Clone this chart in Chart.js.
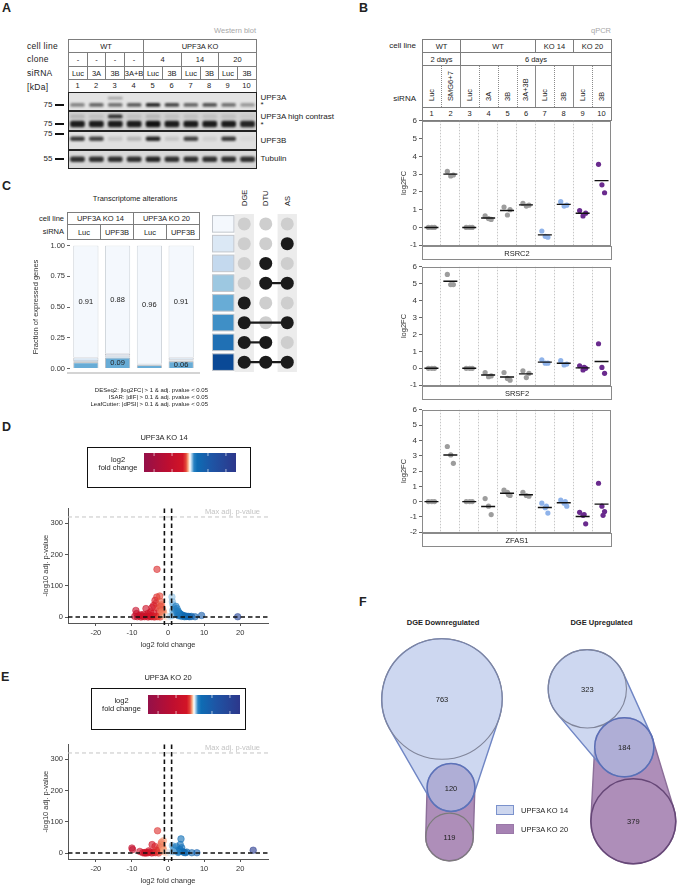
<!DOCTYPE html>
<html>
<head>
<meta charset="utf-8">
<script src="https://cdn.jsdelivr.net/npm/chart.js@4.4.1/dist/chart.umd.min.js"></script>
<style>
body { margin: 0; background: #fff; }
#page { position: relative; width: 678px; height: 886px; overflow: hidden; font-family: "Liberation Sans", Arial, sans-serif; color: #222; }
.t { position: absolute; white-space: nowrap; line-height: 1; }
.cell { position: absolute; box-sizing: border-box; border: 1px solid #7d7d7d; display: flex; align-items: center; justify-content: center; font-size: 7.5px; white-space: nowrap; }
.vline { position: absolute; width: 0; }
.vtext { position: absolute; writing-mode: vertical-rl; transform: rotate(180deg); font-size: 7.5px; line-height: 10px; white-space: nowrap; }
canvas { position: absolute; }
</style>
</head>
<body>
<div id="page"></div>
<script>
// ---------- A: western blot ----------
const blotLanes = ['1', '2', '3', '4', '5', '6', '7', '8', '9', '10'];
const blotCellLine = [['WT', 4], ['UPF3A KO', 6]];
const blotClone = [['-', 1], ['-', 1], ['-', 1], ['-', 1], ['4', 2], ['14', 2], ['20', 2]];
const blotSiRNA = ['Luc', '3A', '3B', '3A+B', 'Luc', '3B', 'Luc', '3B', 'Luc', '3B'];
// band intensity per lane (0 = no band, 1 = black)
const upf3aUpper = [0, 0, 0.3, 0, 0, 0, 0, 0, 0, 0];
const upf3aMain = [0.45, 0.6, 0.55, 0.65, 0.9, 0.75, 0.6, 0.7, 0.55, 0.35];
const upf3aHcUpper = [0.15, 0.1, 0.85, 0.1, 0.15, 0.1, 0.1, 0.1, 0.1, 0.05];
const upf3aHcMain = [0.95, 0.95, 0.95, 0.95, 1, 0.95, 0.95, 0.95, 0.95, 0.9];
const upf3bMain = [0.8, 0.75, 0.12, 0.2, 0.9, 0.12, 0.75, 0.08, 0.8, 0.04];
const tubulinMain = [0.85, 0.85, 0.85, 0.85, 0.9, 0.85, 0.85, 0.85, 0.85, 0.85];

// ---------- B: qPCR ----------
const qpcrCellLine = [['WT', 2], ['WT', 4], ['KO 14', 2], ['KO 20', 2]];
const qpcrDays = [['2 days', 2], ['6 days', 8]];
const qpcrSiRNA = ['Luc', 'SMG6+7', 'Luc', '3A', '3B', '3A+3B', 'Luc', '3B', 'Luc', '3B'];
const qpcrGroup = ['WT', 'WT', 'WT', 'WT', 'WT', 'WT', 'KO14', 'KO14', 'KO20', 'KO20'];
const rsrc2 = [[0, 0, 0], [3.15, 2.9, 2.95], [0, 0, 0], [0.65, 0.5, 0.45], [1.15, 0.7, 1.0], [1.35, 1.2, 1.25],
  [-0.2, -0.5, -0.55], [1.45, 1.2, 1.25], [0.95, 0.65, 0.8], [3.55, 2.4, 1.95]];
const srsf2 = [[0, 0, 0], [5.55, 4.95, 4.95], [0, 0, 0], [-0.25, -0.5, -0.45], [-0.25, -0.6, -0.7], [-0.15, -0.55, -0.3],
  [0.5, 0.3, 0.3], [0.45, 0.2, 0.25], [0.15, -0.1, 0.0, 0.05], [1.45, 0.05, -0.3]];
const zfas1 = [[0, 0, 0], [3.6, 3.05, 2.5], [0, 0, 0], [0.2, -0.3, -0.85], [0.75, 0.6, 0.4, 0.45], [0.6, 0.4, 0.35],
  [-0.1, -0.4, -0.75, -0.3], [0.1, -0.1, -0.3, 0.0], [-0.7, -0.9, -1.45, -0.85], [1.2, -0.3, -0.65, -0.9]];

// ---------- C: transcriptome alterations ----------
const txCellLine = [['UPF3A KO 14', 2], ['UPF3A KO 20', 2]];
const txSiRNA = ['Luc', 'UPF3B', 'Luc', 'UPF3B'];
const txCategories = ['none', 'AS', 'DTU', 'DTU+AS', 'DGE', 'DGE+AS', 'DGE+DTU', 'DGE+DTU+AS'];
const fracNone = [0.910, 0.879, 0.960, 0.910];
const fracAS = [0.020, 0.016, 0.004, 0.015];
const fracDTU = [0.010, 0.010, 0.003, 0.008];
const fracDTUAS = [0.005, 0.005, 0.002, 0.004];
const fracDGE = [0.050, 0.087, 0.027, 0.058];
const fracDGEAS = [0.002, 0.001, 0.002, 0.002];
const fracDGEDTU = [0.002, 0.001, 0.001, 0.002];
const fracDGEDTUAS = [0.001, 0.001, 0.001, 0.001];

// ---------- D / E: volcano plots ----------
const fcCutoff = 1;
const padjCutoff = 0.05;
const maxNegLog10P = 320;
const ko14Fc = [-9.2, -8.5, -8.0, -7.5, -7.0, -6.5, -6.0, -5.5, -5.0, -4.6, -4.2, -3.8, -3.4, -3.0, -2.6, -2.2,
  -8.9, -8.7, -7.5, -6.1, -5.6, -4.8, -4.4, -4.0, -3.6, -3.1, -3.05, -3.3, -2.8, -2.5, -3.9, -5.2, -6.8,
  -2.3, -2.0, -1.8, -1.6, -1.4, -1.2, -1.9, -1.5, -1.1, -2.1, -1.7,
  -0.6, -0.3, 0.3, 0.7,
  1.1, 1.2, 1.4, 1.6, 1.3, 1.8, 1.5, 1.9, 1.2,
  2.2, 2.5, 2.8, 3.0, 3.3, 3.6, 4.0, 4.4, 4.8, 5.2, 5.6, 6.0, 2.6, 3.2, 3.8, 2.4, 2.9, 4.6, 6.5, 7.5,
  9.3, 19.3];
const ko14P = [3, 2, 5, 1, 3, 2, 4, 1, 3, 2, 5, 1, 3, 2, 4, 1,
  22, 12, 8, 28, 12, 18, 31, 38, 54, 65, 153, 45, 30, 20, 14, 8, 9,
  68, 50, 40, 30, 22, 15, 25, 10, 6, 35, 18,
  3, 1, 2, 4,
  65, 50, 40, 30, 22, 15, 10, 25, 6,
  35, 28, 20, 15, 12, 9, 7, 5, 4, 3, 3, 2, 10, 6, 3, 18, 5, 2, 3, 2,
  6, 2];
const ko20Fc = [-10.0, -9.8, -7.8, -7.0, -6.5, -6.3, -6.0, -5.5, -5.0, -4.5, -4.0, -3.5, -3.0, -2.6, -4.4, -3.6, -2.5, -2.9, -5.3, -3.2, -2.2,
  -1.9, -1.8, -1.6, -1.4, -1.3, -1.2, -1.1,
  -0.5, 0.4,
  1.2, 1.5, 1.8, 2.0, 2.3, 2.6, 3.0, 3.3, 3.6, 3.8, 4.0, 4.4, 4.8, 5.2, 3.4, 2.8, 1.4, 6.6, 8.0,
  23.6];
const ko20P = [17, 12, 6, 2, 1, 3, 1, 2, 4, 1, 3, 2, 5, 1, 28, 22, 16, 72, 8, 10, 8,
  30, 35, 25, 18, 40, 10, 5,
  2, 3,
  25, 20, 15, 10, 22, 8, 5, 12, 46, 18, 6, 3, 2, 4, 28, 3, 5, 2, 2,
  10];

// ---------- F: DGE overlap ----------
const downCounts = [763, 120, 119]; // KO14 only, shared, KO20 only
const upCounts = [323, 184, 379];

// ---------- styles / layout ----------
Chart.defaults.font.family = '"Liberation Sans", Arial, sans-serif';
Chart.defaults.font.size = 7.5;
Chart.defaults.color = '#333';
Chart.defaults.animation = false;
Chart.defaults.responsive = false;
Chart.defaults.events = [];
Chart.defaults.layout.autoPadding = false;
Chart.defaults.plugins.legend.display = false;
Chart.defaults.plugins.tooltip.enabled = false;

const page = document.getElementById('page');

function label(str, x, y, opts = {}) {
  const d = document.createElement('div');
  d.className = 't';
  d.textContent = str;
  const align = opts.align || 'center';
  d.style.left = x + 'px';
  d.style.top = y + 'px';
  d.style.fontSize = (opts.size || 7.5) + 'px';
  if (opts.color) d.style.color = opts.color;
  if (opts.bold) d.style.fontWeight = 'bold';
  if (opts.spacing) d.style.letterSpacing = opts.spacing + 'px';
  const tx = align === 'center' ? '-50%' : align === 'right' ? '-100%' : '0';
  d.style.transform = `translate(${tx}, -50%)`;
  page.appendChild(d);
  return d;
}

function cell(x0, x1, y0, y1, txt, css = {}) {
  const d = document.createElement('div');
  d.className = 'cell';
  d.style.left = x0 + 'px';
  d.style.top = y0 + 'px';
  d.style.width = (x1 - x0 + 1) + 'px';
  d.style.height = (y1 - y0 + 1) + 'px';
  if (txt) d.textContent = txt;
  Object.assign(d.style, css);
  page.appendChild(d);
  return d;
}

function vline(x, y0, y1, style) {
  const d = document.createElement('div');
  d.className = 'vline';
  d.style.left = x + 'px';
  d.style.top = y0 + 'px';
  d.style.height = (y1 - y0) + 'px';
  d.style.borderLeft = '1px ' + style + ' #8a8a8a';
  page.appendChild(d);
}

function addCanvas(left, top, w, h) {
  const c = document.createElement('canvas');
  c.width = w;
  c.height = h;
  c.style.left = left + 'px';
  c.style.top = top + 'px';
  c.style.width = w + 'px';
  c.style.height = h + 'px';
  page.appendChild(c);
  return c;
}

// spanning header row: list of [text, span]
function spanRow(items, colX, y0, y1) {
  let i = 0;
  items.forEach(([txt, span]) => {
    cell(colX(i), colX(i + span), y0, y1, txt);
    i += span;
  });
}

// panel letters
[['A', 2, 8], ['B', 359, 8], ['C', 2, 186], ['D', 2, 427], ['E', 1, 677], ['F', 359, 602]]
  .forEach(([l, x, y]) => label(l, x, y, {align: 'left', size: 12.5, bold: true}));

// ================= A =================
const aX = i => Math.round(67.7 + i * 18.83);
label('Western blot', 256, 30.5, {align: 'right', color: '#a8a8a8'});
[['cell line', 45.7], ['clone', 59.3], ['siRNA', 72.7], ['[kDa]', 86.5]]
  .forEach(([t, y]) => label(t, 27, y, {align: 'left', size: 8.5, spacing: 0.3}));
spanRow(blotCellLine, aX, 39, 52);
spanRow(blotClone, aX, 52, 66);
spanRow(blotSiRNA.map(s => [s, 1]), aX, 66, 79);
cell(aX(0), aX(10), 79, 93);
blotLanes.forEach((n, i) => label(n, (aX(i) + aX(i + 1)) / 2, 86.3));

// marker labels and right side labels
[['75', 105], ['75', 123.7], ['75', 134], ['55', 158.7]].forEach(([t, y]) => {
  label(t, 52.5, y, {align: 'right', size: 8});
  const d = document.createElement('div');
  Object.assign(d.style, {position: 'absolute', left: '54.5px', top: (y - 1) + 'px', width: '9px', height: '2px', background: '#111'});
  page.appendChild(d);
});
[['UPF3A', 97.7], ['*', 105], ['UPF3A high contrast', 117.3], ['*', 125], ['UPF3B', 140.7], ['Tubulin', 159]]
  .forEach(([t, y]) => label(t, 260.5, y, {align: 'left', size: 8}));

const blotBands = [
  {vals: upf3aUpper, y: 0.32, h: 0.07},
  {vals: upf3aMain, y: 0.67, h: 0.1},
  {vals: upf3aHcUpper, y: 1.27, h: 0.1},
  {vals: upf3aHcMain, y: 1.66, h: 0.17},
  {vals: upf3bMain, y: 2.43, h: 0.12},
  {vals: tubulinMain, y: 3.49, h: 0.14}
];
const stripShade = ['#e4e4e4', '#d2d2d2', '#e0e0e0', '#d9d9d9'];

const blotStrips = {
  id: 'blotStrips',
  beforeDatasetsDraw(chart) {
    const {ctx, scales: {y}, chartArea: a} = chart;
    ctx.save();
    stripShade.forEach((c, s) => {
      ctx.fillStyle = c;
      ctx.fillRect(a.left, y.getPixelForValue(s), a.width, y.getPixelForValue(s + 1) - y.getPixelForValue(s));
    });
    ctx.restore();
    ctx.filter = 'blur(1.2px)';
  },
  afterDatasetsDraw(chart) {
    const {ctx, scales: {y}, chartArea: a} = chart;
    ctx.filter = 'none';
    ctx.save();
    ctx.strokeStyle = '#222';
    ctx.lineWidth = 1;
    stripShade.forEach((c, s) => {
      const y0 = Math.round(y.getPixelForValue(s)) + 0.5;
      const y1 = Math.round(y.getPixelForValue(s + 1)) - 0.5;
      ctx.strokeRect(a.left + 0.5, y0, a.width - 1, y1 - y0);
    });
    ctx.restore();
  }
};

new Chart(addCanvas(aX(0), 92, aX(10) - aX(0) + 1, 77), {
  type: 'bar',
  data: {
    labels: blotLanes,
    datasets: blotBands.map(b => ({
      data: blotLanes.map(() => [b.y - b.h, b.y + b.h]),
      backgroundColor: b.vals.map(v => `rgba(18,18,18,${v})`),
      borderRadius: 2,
      borderSkipped: false,
      grouped: false,
      barPercentage: 0.78,
      categoryPercentage: 1
    }))
  },
  options: {
    devicePixelRatio: 1,
    layout: {padding: 0},
    scales: {
      x: {display: false},
      y: {display: false, min: 0, max: 4, reverse: true}
    }
  },
  plugins: [blotStrips]
});

// ================= B =================
const bX = i => Math.round(422.3 + i * 18.84);
label('qPCR', 611, 30.5, {align: 'right', color: '#a8a8a8'});
label('cell line', 416, 45.7, {align: 'right', size: 8});
label('siRNA', 416, 98.7, {align: 'right', size: 8});
spanRow(qpcrCellLine, bX, 39, 52);
spanRow(qpcrDays, bX, 52, 65);
cell(bX(0), bX(10), 65, 107);
[1, 3, 4, 5, 7, 9].forEach(i => vline(bX(i), 66, 107, 'dotted'));
[2, 6, 8].forEach(i => vline(bX(i), 66, 107, 'solid'));
qpcrSiRNA.forEach((s, i) => {
  const d = document.createElement('div');
  d.className = 'vtext';
  d.textContent = s;
  const cx = (bX(i) + bX(i + 1)) / 2;
  Object.assign(d.style, {left: (cx - 5) + 'px', top: '66px', width: '10px', height: '35px'});
  page.appendChild(d);
});
cell(bX(0), bX(10), 107, 120);
qpcrSiRNA.forEach((s, i) => label(String(i + 1), (bX(i) + bX(i + 1)) / 2, 114));

const qpcrColors = {WT: '#9d9d9d', KO14: '#8fb3ea', KO20: '#6a2b8e'};
const jitter = [-0.16, 0.02, 0.16, 0.08];

const boxPlugin = {
  id: 'boxPlugin',
  afterDraw(chart) {
    const {ctx, chartArea: a} = chart;
    ctx.save();
    ctx.strokeStyle = '#8a8a8a';
    ctx.lineWidth = 1;
    ctx.strokeRect(Math.round(a.left) + 0.5, Math.round(a.top) + 0.5, Math.round(a.width) - 1, Math.round(a.height));
    ctx.restore();
  }
};

function qpcrChart(reps, top, bottom, yMin, gene) {
  const groups = {WT: [], KO14: [], KO20: []};
  reps.forEach((vals, c) => vals.forEach((v, i) => groups[qpcrGroup[c]].push({x: c + 1 + jitter[i], y: v})));
  const means = reps.map((vals, c) => ({x: c + 1, y: vals.reduce((s, v) => s + v, 0) / vals.length}));
  const pts = g => ({data: groups[g], pointRadius: 2.6, backgroundColor: qpcrColors[g], borderWidth: 0});
  new Chart(addCanvas(395, top - 6, 217, bottom - top + 12), {
    type: 'scatter',
    data: {
      datasets: [
        {data: means, pointStyle: 'line', pointRadius: 7, borderColor: '#111', borderWidth: 1.4},
        pts('WT'), pts('KO14'), pts('KO20')
      ]
    },
    options: {
      devicePixelRatio: 1,
      layout: {padding: {top: 6, bottom: 6, left: 0, right: 1}},
      scales: {
        x: {
          min: 0.5, max: 10.5,
          afterFit: s => { s.height = 0; },
          afterBuildTicks: s => { s.ticks = [1.5, 2.5, 3.5, 4.5, 5.5, 6.5, 7.5, 8.5, 9.5].map(v => ({value: v})); },
          ticks: {display: false},
          grid: {color: '#c6c6c6', drawTicks: false},
          border: {display: false, dash: [1.5, 1.5]}
        },
        y: {
          min: yMin, max: 6,
          afterFit: s => { s.width = 27; },
          ticks: {stepSize: 1, padding: 2, color: '#333', font: {size: 8}},
          grid: {drawOnChartArea: false, tickLength: 3, color: '#666'},
          border: {display: false},
          title: {display: true, text: 'log2FC', color: '#333', font: {size: 7.5}, padding: {top: 4, bottom: 0}}
        }
      }
    },
    plugins: [boxPlugin]
  });
  cell(bX(0), bX(10), bottom, bottom + 13, gene, {borderColor: '#8a8a8a'});
}

qpcrChart(rsrc2, 120, 246, -1, 'RSRC2');
qpcrChart(srsf2, 266, 386, -1, 'SRSF2');
qpcrChart(zfas1, 409, 533, -2, 'ZFAS1');

// ================= C =================
const cX = i => [67, 100, 133, 166, 199][i];
label('Transcriptome alterations', 135, 198.5);
label('cell line', 64, 218.5, {align: 'right'});
label('siRNA', 64, 231.5, {align: 'right'});
spanRow(txCellLine, cX, 212, 224);
spanRow(txSiRNA.map(s => [s, 1]), cX, 224, 239);

const txColors = {
  'none': '#f4f8fd', 'AS': '#dbe8f5', 'DTU': '#c4d9ee', 'DTU+AS': '#9dc8e1',
  'DGE': '#68acd6', 'DGE+AS': '#3f8fc6', 'DGE+DTU': '#2070b4', 'DGE+DTU+AS': '#0a4996'
};
const txFrac = {
  'none': fracNone, 'AS': fracAS, 'DTU': fracDTU, 'DTU+AS': fracDTUAS,
  'DGE': fracDGE, 'DGE+AS': fracDGEAS, 'DGE+DTU': fracDGEDTU, 'DGE+DTU+AS': fracDGEDTUAS
};
const stackOrder = ['DGE', 'DGE+AS', 'DGE+DTU', 'DGE+DTU+AS', 'DTU+AS', 'DTU', 'AS', 'none'];

const barLabels = {
  id: 'barLabels',
  afterDatasetsDraw(chart) {
    const {ctx} = chart;
    ctx.save();
    ctx.font = '7.5px "Liberation Sans", Arial, sans-serif';
    ctx.fillStyle = '#222';
    ctx.textAlign = 'center';
    ctx.textBaseline = 'middle';
    chart.data.datasets.forEach((ds, di) => {
      if (ds.label !== 'none' && ds.label !== 'DGE') return;
      chart.getDatasetMeta(di).data.forEach((bar, i) => {
        const v = ds.data[i];
        if (ds.label === 'DGE' && v < 0.055) return;
        ctx.fillText(v.toFixed(2), bar.x, (bar.y + bar.base) / 2 + 0.5);
      });
    });
    ctx.restore();
  }
};

new Chart(addCanvas(27, 239, 171, 136), {
  type: 'bar',
  data: {
    labels: txSiRNA,
    datasets: stackOrder.map(k => ({
      label: k,
      data: txFrac[k],
      backgroundColor: txColors[k],
      borderColor: k === 'none' ? '#bcc3cc' : 'rgba(100,100,110,0.55)',
      borderWidth: 0.8,
      barPercentage: 0.79,
      categoryPercentage: 1
    }))
  },
  options: {
    devicePixelRatio: 1,
    layout: {padding: {top: 6, bottom: 6, left: 0, right: 1}},
    scales: {
      x: {display: false, stacked: true},
      y: {
        stacked: true, min: 0, max: 1,
        afterFit: s => { s.width = 43; },
        ticks: {stepSize: 0.25, padding: 2, color: '#333', callback: v => v.toFixed(2)},
        grid: {drawOnChartArea: false, tickLength: 3, color: '#666'},
        border: {display: false},
        title: {display: true, text: 'Fraction of expressed genes', color: '#333', font: {size: 7.5}, padding: {top: 4, bottom: 0}}
      }
    }
  },
  plugins: [barLabels]
});
(() => {
  const d = document.createElement('div');
  Object.assign(d.style, {position: 'absolute', left: '67px', top: '372px', width: '133px', height: '2px', background: '#d4d4d4'});
  page.appendChild(d);
})();

// upset-style matrix
const methods = ['DGE', 'DTU', 'AS'];
methods.forEach((m, j) => {
  const d = document.createElement('div');
  d.className = 'vtext';
  d.textContent = m;
  Object.assign(d.style, {left: (244.5 + j * 21.5 - 5) + 'px', top: '180px', width: '10px', height: '26px'});
  page.appendChild(d);
});
const present = [], absent = [], links = [];
txCategories.forEach((cat, r) => {
  const parts = cat === 'none' ? [] : cat.split('+');
  const cols = [];
  methods.forEach((m, j) => {
    const on = parts.includes(m);
    (on ? present : absent).push({x: j + 1, y: r + 1});
    if (on) cols.push(j + 1);
  });
  if (cols.length > 1) links.push([{x: cols[0], y: r + 1}, {x: cols[cols.length - 1], y: r + 1}]);
});

const matrixBg = {
  id: 'matrixBg',
  beforeDatasetsDraw(chart) {
    const {ctx, scales: {x, y}} = chart;
    ctx.save();
    ctx.fillStyle = '#ececec';
    [1, 3].forEach(c => {
      ctx.fillRect(x.getPixelForValue(c - 0.45), y.getPixelForValue(0.5), x.getPixelForValue(c + 0.45) - x.getPixelForValue(c - 0.45), y.getPixelForValue(8.5) - y.getPixelForValue(0.5));
    });
    txCategories.forEach((cat, r) => {
      const x0 = x.getPixelForValue(-0.5) + 0.5, x1 = x.getPixelForValue(0.52);
      const y0 = y.getPixelForValue(r + 0.58), y1 = y.getPixelForValue(r + 1.42);
      ctx.fillStyle = txColors[cat];
      ctx.fillRect(x0, y0, x1 - x0, y1 - y0);
      ctx.strokeStyle = '#c2c6cc';
      ctx.lineWidth = 1;
      ctx.strokeRect(x0, y0, x1 - x0, y1 - y0);
    });
    ctx.restore();
  }
};

new Chart(addCanvas(212, 214, 86, 158), {
  type: 'scatter',
  data: {
    datasets: [
      {data: present, pointRadius: 6.5, backgroundColor: '#1b1b1b', borderWidth: 0},
      ...links.map(l => ({data: l, showLine: true, pointRadius: 0, borderColor: '#1b1b1b', borderWidth: 2.2})),
      {data: absent, pointRadius: 6.5, backgroundColor: '#cecece', borderWidth: 0}
    ]
  },
  options: {
    devicePixelRatio: 1,
    layout: {padding: 0},
    scales: {
      x: {display: false, min: -0.5, max: 3.5},
      y: {display: false, min: 0.5, max: 8.5, reverse: true}
    }
  },
  plugins: [matrixBg]
});

label('DESeq2: |log2FC| > 1 & adj. pvalue < 0.05', 208, 390, {align: 'right', size: 6});
label('ISAR: |dIF| > 0.1 & adj. pvalue < 0.05', 208, 397, {align: 'right', size: 6});
label('LeafCutter: |dPSI| > 0.1 & adj. pvalue < 0.05', 208, 404, {align: 'right', size: 6});

// ================= D / E =================
const fcStops = [
  [-25, [150, 16, 72]], [-12, [190, 14, 48]], [-4, [210, 20, 38]], [-2.2, [228, 72, 58]],
  [-1.2, [245, 160, 120]], [-0.4, [253, 224, 205]], [0, [255, 255, 255]], [0.4, [215, 232, 245]],
  [1.2, [140, 190, 225]], [2.2, [40, 130, 195]], [4, [14, 108, 180]], [12, [30, 85, 165]], [25, [44, 56, 140]]
];
function fcColor(fc, alpha) {
  let c = fcStops[fcStops.length - 1][1];
  if (fc <= fcStops[0][0]) c = fcStops[0][1];
  for (let i = 0; i < fcStops.length - 1; i++) {
    const [a, ca] = fcStops[i], [b, cb] = fcStops[i + 1];
    if (fc >= a && fc <= b) {
      const t = (fc - a) / (b - a);
      c = ca.map((v, k) => Math.round(v + (cb[k] - v) * t));
      break;
    }
  }
  return `rgba(${c[0]},${c[1]},${c[2]},${alpha})`;
}

const gradientFill = {
  id: 'gradientFill',
  beforeDatasetsDraw(chart) {
    const {ctx, chartArea: a, scales: {x}} = chart;
    const g = ctx.createLinearGradient(a.left, 0, a.right, 0);
    fcStops.forEach(([v]) => {
      const pos = Math.min(1, Math.max(0, (x.getPixelForValue(v) - a.left) / a.width));
      g.addColorStop(pos, fcColor(v, 1));
    });
    ctx.save();
    ctx.fillStyle = g;
    ctx.fillRect(a.left, a.top, a.width, a.height);
    ctx.strokeStyle = 'rgba(255,255,255,0.8)';
    ctx.lineWidth = 0.8;
    [-20, -10, 10, 20].forEach(v => {
      const px = x.getPixelForValue(v);
      ctx.beginPath();
      ctx.moveTo(px, a.top); ctx.lineTo(px, a.top + 3);
      ctx.moveTo(px, a.bottom - 3); ctx.lineTo(px, a.bottom);
      ctx.stroke();
    });
    ctx.restore();
  }
};

function colorbar(boxL, boxT, boxW, boxH, textX, barL, barT) {
  const d = document.createElement('div');
  Object.assign(d.style, {position: 'absolute', left: boxL + 'px', top: boxT + 'px', width: boxW + 'px', height: boxH + 'px', border: '1.6px solid #111', boxSizing: 'border-box'});
  page.appendChild(d);
  label('log2', textX, boxT + 13, {size: 7.5});
  label('fold change', textX, boxT + 21, {size: 7.5});
  new Chart(addCanvas(barL - 4, barT, 100, 31), {
    type: 'scatter',
    data: {datasets: []},
    options: {
      devicePixelRatio: 1,
      layout: {padding: {left: 4, right: 4, top: 0, bottom: 0}},
      scales: {
        x: {
          min: -25.6, max: 25.6,
          afterFit: s => { s.height = 12; },
          ticks: {stepSize: 10, includeBounds: false, padding: 3, color: '#333'},
          grid: {display: false},
          border: {display: false}
        },
        y: {display: false, min: 0, max: 1}
      }
    },
    plugins: [gradientFill]
  });
}

const volcanoGuides = {
  id: 'volcanoGuides',
  afterDatasetsDraw(chart) {
    const {ctx, chartArea: a, scales: {x, y}} = chart;
    const seg = (x0, y0, x1, y1) => { ctx.beginPath(); ctx.moveTo(x0, y0); ctx.lineTo(x1, y1); ctx.stroke(); };
    ctx.save();
    const ym = y.getPixelForValue(maxNegLog10P);
    ctx.setLineDash([4, 3]);
    ctx.strokeStyle = '#c4c4c4';
    ctx.lineWidth = 1;
    seg(a.left, ym, a.right, ym);
    ctx.fillStyle = '#c4c4c4';
    ctx.font = '7.5px "Liberation Sans", Arial, sans-serif';
    ctx.textAlign = 'right';
    ctx.textBaseline = 'bottom';
    ctx.fillText('Max adj. p-value', a.right - 8, ym - 1);
    ctx.strokeStyle = '#111';
    ctx.lineWidth = 1.6;
    ctx.setLineDash([4.5, 3]);
    const yp = y.getPixelForValue(-Math.log10(padjCutoff));
    seg(a.left, yp, a.right, yp);
    [-fcCutoff, fcCutoff].forEach(v => {
      const xp = x.getPixelForValue(v);
      seg(xp, a.top, xp, a.bottom + 2);
    });
    ctx.restore();
  }
};

function volcano(top, fcs, ps) {
  new Chart(addCanvas(37, top, 233, 151), {
    type: 'scatter',
    data: {
      datasets: [{
        data: fcs.map((fc, i) => ({x: fc, y: ps[i]})),
        pointRadius: 3.3,
        backgroundColor: fcs.map(fc => fcColor(fc, 0.62)),
        borderColor: fcs.map(fc => fcColor(fc, 0.8)),
        borderWidth: 0.6
      }]
    },
    options: {
      devicePixelRatio: 1,
      layout: {padding: {top: 6, right: 2, left: 0, bottom: 0}},
      scales: {
        x: {
          min: -27.7, max: 27.7,
          afterFit: s => { s.height = 30; },
          ticks: {stepSize: 10, includeBounds: false, padding: 2, color: '#333'},
          grid: {drawOnChartArea: false, tickLength: 3, color: '#555'},
          border: {color: '#555', width: 1},
          title: {display: true, text: 'log2 fold change', color: '#333', font: {size: 7.5}, padding: {top: 2, bottom: 4}}
        },
        y: {
          min: -18, max: 347,
          afterFit: s => { s.width = 31; },
          ticks: {stepSize: 100, includeBounds: false, padding: 2, color: '#333'},
          grid: {drawOnChartArea: false, tickLength: 3, color: '#555'},
          border: {color: '#555', width: 1},
          title: {display: true, text: '-log10 adj. p-value', color: '#333', font: {size: 7.5}, padding: {top: 4, bottom: 0}}
        }
      }
    },
    plugins: [volcanoGuides]
  });
}

label('UPF3A KO 14', 164, 437.5);
colorbar(87, 447, 164, 41, 118, 144, 453);
volcano(502, ko14Fc, ko14P);

label('UPF3A KO 20', 168, 678);
colorbar(91, 688, 155, 42, 121.5, 148, 695);
volcano(738, ko20Fc, ko20P);

// ================= F =================
label('DGE Downregulated', 443, 623.3, {bold: true});
label('DGE Upregulated', 601.5, 623.3, {bold: true});

const vennK = 2.18; // radius per sqrt(count)
const vennCenters = [[102, 69], [111, 157.5], [109.5, 207], [247.3, 58.8], [284.3, 117.3], [293.3, 191.3]];
const vennCounts = [...downCounts, ...upCounts];
const vennStroke = ['#80859a', '#5c72b9', '#7c7c7c', '#80859a', '#5a6fb6', '#664777'];
const vennHulls = [[1, 2, 'ko20'], [4, 5, 'ko20'], [0, 1, 'ko14'], [3, 4, 'ko14']];
const hullStyle = {
  ko14: {fill: 'rgba(176,193,232,0.64)', stroke: '#7086c4'},
  ko20: {fill: 'rgba(128,78,146,0.64)', stroke: '#8c6f99'}
};

const vennPlugin = {
  id: 'vennPlugin',
  beforeDatasetsDraw(chart) {
    const {ctx, scales: {x, y}} = chart;
    const pts = chart.data.datasets[0].data.map(d => ({x: x.getPixelForValue(d.x), y: y.getPixelForValue(d.y), r: d.r}));
    ctx.save();
    vennHulls.forEach(([i, j, set]) => {
      const a = pts[i], b = pts[j];
      const th = Math.atan2(b.y - a.y, b.x - a.x);
      const al = Math.acos((a.r - b.r) / Math.hypot(b.x - a.x, b.y - a.y));
      ctx.beginPath();
      ctx.arc(a.x, a.y, a.r, th + al, th - al + 2 * Math.PI);
      ctx.arc(b.x, b.y, b.r, th - al, th + al);
      ctx.closePath();
      ctx.fillStyle = hullStyle[set].fill;
      ctx.fill();
      ctx.strokeStyle = hullStyle[set].stroke;
      ctx.lineWidth = 1.4;
      ctx.stroke();
    });
    ctx.restore();
  },
  afterDatasetsDraw(chart) {
    const {ctx} = chart;
    ctx.save();
    ctx.font = '7.5px "Liberation Sans", Arial, sans-serif';
    ctx.fillStyle = '#222';
    ctx.textAlign = 'center';
    ctx.textBaseline = 'middle';
    chart.getDatasetMeta(0).data.forEach((el, i) => ctx.fillText(String(vennCounts[i]), el.x, el.y + 1));
    ctx.restore();
  }
};

new Chart(addCanvas(340, 630, 338, 256), {
  type: 'bubble',
  data: {
    datasets: [{
      data: vennCounts.map((n, i) => ({x: vennCenters[i][0], y: vennCenters[i][1], r: vennK * Math.sqrt(n)})),
      backgroundColor: 'rgba(0,0,0,0)',
      borderColor: vennStroke,
      borderWidth: [1.1, 1.5, 1.2, 1.1, 1.5, 1.5],
      clip: false
    }]
  },
  options: {
    devicePixelRatio: 1,
    layout: {padding: 0, autoPadding: false},
    scales: {
      x: {display: false, min: 0, max: 338},
      y: {display: false, min: 0, max: 256, reverse: true}
    }
  },
  plugins: [vennPlugin]
});

[['UPF3A KO 14', 805, '#cdd6ee', '#7b92cc'], ['UPF3A KO 20', 824, '#a682b3', '#9a78a8']].forEach(([t, y, fill, border]) => {
  const d = document.createElement('div');
  Object.assign(d.style, {position: 'absolute', left: '496px', top: y + 'px', width: '18px', height: '10px', background: fill, border: '1px solid ' + border, boxSizing: 'border-box'});
  page.appendChild(d);
  label(t, 521, y + 5.5, {align: 'left'});
});
</script>
</body>
</html>
